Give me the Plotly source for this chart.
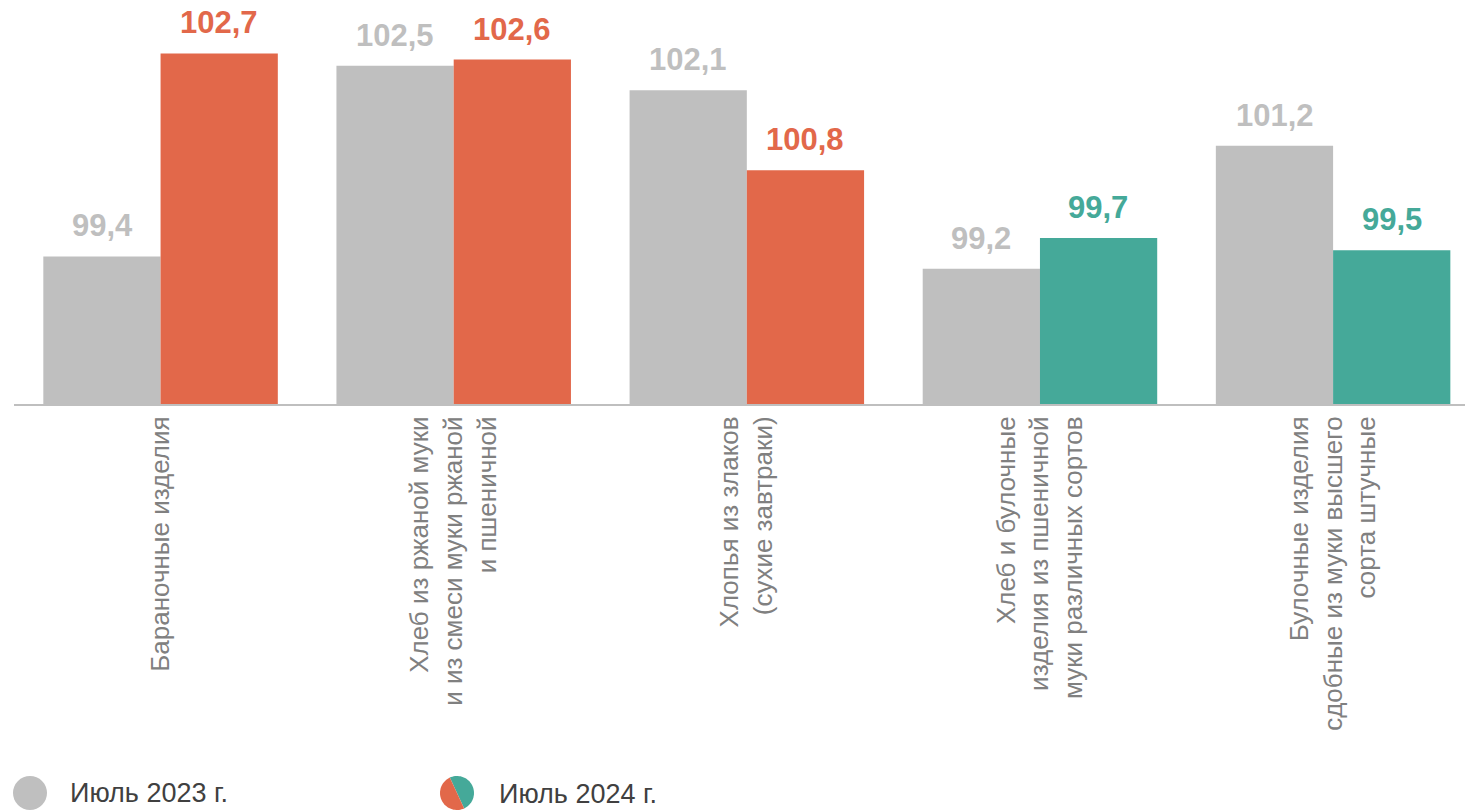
import numpy as np
import plotly.graph_objects as go

categories = [
    "Бараночные изделия",
    "Хлеб из ржаной муки<br>и из смеси муки ржаной<br>и пшеничной",
    "Хлопья из злаков<br>(сухие завтраки)",
    "Хлеб и булочные<br>изделия из пшеничной<br>муки различных сортов",
    "Булочные изделия<br>сдобные из муки высшего<br>сорта штучные",
]
jul_2023 = [99.4, 102.5, 102.1, 99.2, 101.2]
jul_2024 = [102.7, 102.6, 100.8, 99.7, 99.5]
series_names = ["Июль 2023 г.", "Июль 2024 г."]

GREY = "#BFBFBF"
ORANGE = "#E2684A"
TEAL = "#45A999"
FONT = "Liberation Sans"

colors_2024 = [ORANGE if v >= 100 else TEAL for v in jul_2024]

fig = go.Figure()
fig.add_trace(go.Bar(x=categories, y=jul_2023, name=series_names[0],
                     marker=dict(color=GREY, line=dict(width=0))))
fig.add_trace(go.Bar(x=categories, y=jul_2024, name=series_names[1],
                     marker=dict(color=colors_2024, line=dict(width=0))))

def fmt(v):
    return f"{v:.1f}".replace(".", ",")

annotations = []
for c, v in zip(categories, jul_2023):
    annotations.append(dict(x=c, y=v, xref="x", yref="y", text=fmt(v), showarrow=False,
                            xshift=-58.5, yshift=11, yanchor="bottom",
                            font=dict(family=FONT, size=31, color=GREY, weight="bold")))
for c, v, col in zip(categories, jul_2024, colors_2024):
    annotations.append(dict(x=c, y=v, xref="x", yref="y", text=fmt(v), showarrow=False,
                            xshift=58.5, yshift=11, yanchor="bottom",
                            font=dict(family=FONT, size=31, color=col, weight="bold")))

# legend (manual)
plot_left = 14
plot_w = 1465 - plot_left
plot_h = 404

def px_x(px):
    return (px - plot_left) / plot_w

def px_y(py):
    return (plot_h - py) / plot_h

leg_y = px_y(793)
R = 17
shapes = []
shapes.append(dict(type="circle", xref="paper", yref="paper", xsizemode="pixel", ysizemode="pixel",
                   xanchor=px_x(30), yanchor=leg_y, x0=-R, x1=R, y0=-R, y1=R,
                   fillcolor=GREY, line=dict(width=0)))

def half_path(a_start, a_end, n=40):
    angs = np.linspace(np.radians(a_start), np.radians(a_end), n)
    pts = [(R * np.cos(a), R * np.sin(a)) for a in angs]
    d = "M " + " L ".join(f"{x:.2f},{y:.2f}" for x, y in pts) + " Z"
    return d

shapes.append(dict(type="path", xref="paper", yref="paper", xsizemode="pixel", ysizemode="pixel",
                   xanchor=px_x(457), yanchor=leg_y, path=half_path(115, -65),
                   fillcolor=TEAL, line=dict(width=0)))
shapes.append(dict(type="path", xref="paper", yref="paper", xsizemode="pixel", ysizemode="pixel",
                   xanchor=px_x(457), yanchor=leg_y, path=half_path(115, 295),
                   fillcolor=ORANGE, line=dict(width=0)))

annotations.append(dict(x=px_x(68), y=px_y(793), xref="paper", yref="paper", text=series_names[0],
                        showarrow=False, xanchor="left", yanchor="middle",
                        font=dict(family=FONT, size=27, color="#404040")))
annotations.append(dict(x=px_x(497), y=px_y(794), xref="paper", yref="paper", text=series_names[1],
                        showarrow=False, xanchor="left", yanchor="middle",
                        font=dict(family=FONT, size=27, color="#404040")))

fig.update_layout(
    width=1465, height=810,
    margin=dict(l=plot_left, r=0, t=0, b=810 - plot_h, pad=0),
    paper_bgcolor="white", plot_bgcolor="white",
    barmode="group", bargap=0.2, bargroupgap=0,
    showlegend=False,
    annotations=annotations,
    shapes=shapes,
    font=dict(family=FONT),
    xaxis=dict(range=[-0.5, 4.45], showline=True, linecolor="#BFBFBF", linewidth=2,
               tickangle=-90, ticks="", showgrid=False, zeroline=False,
               tickfont=dict(family=FONT, size=26, color="#808080"), fixedrange=True),
    yaxis=dict(range=[97, 97 + plot_h / 61.5], visible=False, fixedrange=True),
)

fig.write_html("out.html", config={"displayModeBar": False},
               post_script="document.body.style.margin='0';document.body.style.overflow='hidden';")
